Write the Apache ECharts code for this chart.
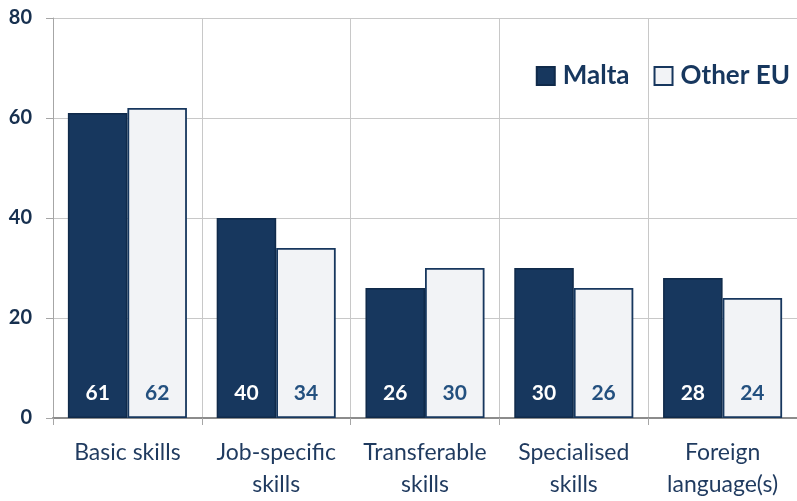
<!DOCTYPE html>
<html>
<head>
<meta charset="utf-8">
<script src="https://cdn.jsdelivr.net/npm/echarts@6/dist/echarts.min.js"></script>
<style>
  html, body { margin: 0; padding: 0; background: #ffffff; overflow: hidden; }
  #chart { width: 797px; height: 501px; }
</style>
</head>
<body>
<div id="chart"></div>
<script>
// Skill categories on the horizontal axis
const categories = ['Basic skills', 'Job-specific\nskills', 'Transferable\nskills', 'Specialised\nskills', 'Foreign\nlanguage(s)'];
// Share (%) for each group
const maltaValues = [61, 40, 26, 30, 28];
const otherEuValues = [62, 34, 30, 26, 24];
// Value axis tick labels
const yTicks = [0, 20, 40, 60, 80];

const NAVY = '#17375e';
const FONT = 'Lato, "Open Sans", sans-serif';

const chart = echarts.init(document.getElementById('chart'), null, { renderer: 'canvas' });

chart.setOption({
  animation: false,
  textStyle: { fontFamily: FONT },
  grid: { left: 53, width: 745, top: 18, height: 402, containLabel: false },
  legend: {
    right: 2,
    top: 58,
    icon: 'rect',
    itemWidth: 18,
    itemHeight: 18,
    itemGap: 24,
    textStyle: { fontSize: 26, fontWeight: 'bold', color: NAVY, fontFamily: FONT, padding: [0, 0, 0, 3] },
    data: ['Malta', 'Other EU']
  },
  xAxis: {
    type: 'category',
    data: categories,
    axisLine: { show: true, lineStyle: { color: '#8c8c8c', width: 2 } },
    axisTick: { show: true, length: 7, lineStyle: { color: '#a6a6a6', width: 1 } },
    splitLine: { show: true, lineStyle: { color: '#c8c8c8', width: 1 } },
    axisLabel: {
      color: '#1f3a5f',
      fontSize: 23,
      fontFamily: FONT,
      lineHeight: 32,
      margin: 19,
      interval: 0
    }
  },
  yAxis: {
    type: 'value',
    min: yTicks[0],
    max: yTicks[yTicks.length - 1],
    interval: yTicks[1] - yTicks[0],
    axisLine: { show: true, lineStyle: { color: '#a6a6a6', width: 1 } },
    axisTick: { show: true, length: 7, lineStyle: { color: '#a6a6a6' } },
    splitLine: { show: true, lineStyle: { color: '#c8c8c8', width: 1 } },
    axisLabel: {
      color: '#17304f',
      fontSize: 20,
      fontWeight: 'bold',
      fontFamily: FONT,
      margin: 21
    }
  },
  series: [
    {
      name: 'Malta',
      type: 'bar',
      data: maltaValues,
      barGap: '0%',
      barCategoryGap: '20%',
      itemStyle: { color: NAVY, borderColor: '#102a4a', borderWidth: 1.5 },
      label: {
        show: true,
        position: 'insideBottom',
        distance: 14,
        color: '#ffffff',
        fontSize: 21,
        fontWeight: 'bold',
        fontFamily: FONT
      },
      z: 2
    },
    {
      name: 'Other EU',
      type: 'bar',
      data: otherEuValues,
      itemStyle: { color: '#f2f3f6', borderColor: NAVY, borderWidth: 1.8 },
      label: {
        show: true,
        position: 'insideBottom',
        distance: 14,
        color: '#24507f',
        fontSize: 21,
        fontWeight: 'bold',
        fontFamily: FONT
      },
      z: 2
    }
  ]
});
</script>
</body>
</html>
